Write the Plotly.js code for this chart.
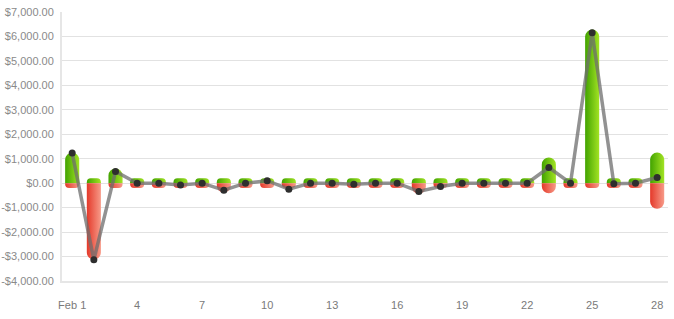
<!DOCTYPE html>
<html>
<head>
<meta charset="utf-8">
<script src="https://cdn.plot.ly/plotly-3.0.1.min.js"></script>
<style>
html,body{margin:0;padding:0;background:#fff;}
#chart{width:674px;height:319px;}
</style>
</head>
<body>
<div id="chart"></div>
<script>
const days = [1,2,3,4,5,6,7,8,9,10,11,12,13,14,15,16,17,18,19,20,21,22,23,24,25,26,27,28];
const income = [1250,200,600,200,200,200,200,200,200,200,200,200,200,200,200,200,200,200,200,200,200,200,1050,200,6280,200,200,1250];
const expense = [-200,-3120,-200,-200,-200,-200,-200,-380,-200,-200,-200,-200,-200,-200,-200,-200,-430,-200,-200,-200,-200,-200,-410,-200,-200,-200,-200,-1050];
const net = [1230,-3130,480,0,0,-70,0,-290,0,100,-245,0,0,-40,0,0,-340,-135,0,0,0,0,640,0,6150,-25,0,235];
const xTickVals = [1,4,7,10,13,16,19,22,25,28];
const xTickText = ["Feb 1","4","7","10","13","16","19","22","25","28"];
const yTickVals = [-4000,-3000,-2000,-1000,0,1000,2000,3000,4000,5000,6000,7000];
const yTickText = ["-$4,000.00","-$3,000.00","-$2,000.00","-$1,000.00","$0.00","$1,000.00","$2,000.00","$3,000.00","$4,000.00","$5,000.00","$6,000.00","$7,000.00"];

const traces = [
  {type:'bar', x:days, y:income, name:'Income',
   marker:{color:'#6cc512', cornerradius:7, line:{width:0}}},
  {type:'bar', x:days, y:expense, name:'Expense',
   marker:{color:'#ee6552', cornerradius:7, line:{width:0}}},
  {type:'scatter', mode:'lines+markers', x:days, y:net, name:'Net',
   line:{color:'rgba(110,110,110,0.75)', width:3.5},
   marker:{color:'#2e2e2e', size:7}}
];

const layout = {
  width:674, height:319,
  margin:{l:62, r:6, t:12, b:38},
  paper_bgcolor:'#fff', plot_bgcolor:'#fff',
  barmode:'relative', bargap:0.35,
  showlegend:false,
  font:{family:'"Liberation Sans", Arial, sans-serif', size:11, color:'#888'},
  xaxis:{range:[0.53,28.5], tickvals:xTickVals, ticktext:xTickText,
    showgrid:false, zeroline:false, showline:true, linecolor:'#e6e6e6', linewidth:2,
    ticks:'', ticklabelstandoff:13, tickfont:{color:'#7a7a7a', size:11}},
  yaxis:{range:[-4000,7000], tickvals:yTickVals, ticktext:yTickText,
    showgrid:true, gridcolor:'#e2e2e2', gridwidth:1, zeroline:false,
    showline:true, linecolor:'#e6e6e6', linewidth:2, ticks:'', ticklabelstandoff:4,
    tickfont:{color:'#8a8a8a', size:11}}
};

function addGradient(svg, id, c1, c2) {
  const ns = 'http://www.w3.org/2000/svg';
  let defs = svg.querySelector('defs');
  if (!defs) { defs = document.createElementNS(ns, 'defs'); svg.insertBefore(defs, svg.firstChild); }
  const g = document.createElementNS(ns, 'linearGradient');
  g.setAttribute('id', id);
  g.setAttribute('x1', '0'); g.setAttribute('y1', '0');
  g.setAttribute('x2', '1'); g.setAttribute('y2', '0');
  [[0, c1], [1, c2]].forEach(([o, c]) => {
    const s = document.createElementNS(ns, 'stop');
    s.setAttribute('offset', o);
    s.setAttribute('stop-color', c);
    g.appendChild(s);
  });
  defs.appendChild(g);
}

Plotly.newPlot('chart', traces, layout, {displayModeBar:false, staticPlot:true}).then(() => {
  const svg = document.querySelector('#chart .main-svg');
  addGradient(svg, 'gradGreen', '#42a300', '#a2e324');
  addGradient(svg, 'gradRed', '#e4392a', '#f79a88');
  const barTraces = document.querySelectorAll('#chart .barlayer .trace');
  const fills = ['url(#gradGreen)', 'url(#gradRed)'];
  barTraces.forEach((t, i) => {
    t.querySelectorAll('.point path').forEach(p => { p.style.fill = fills[i]; });
  });
});
</script>
</body>
</html>
